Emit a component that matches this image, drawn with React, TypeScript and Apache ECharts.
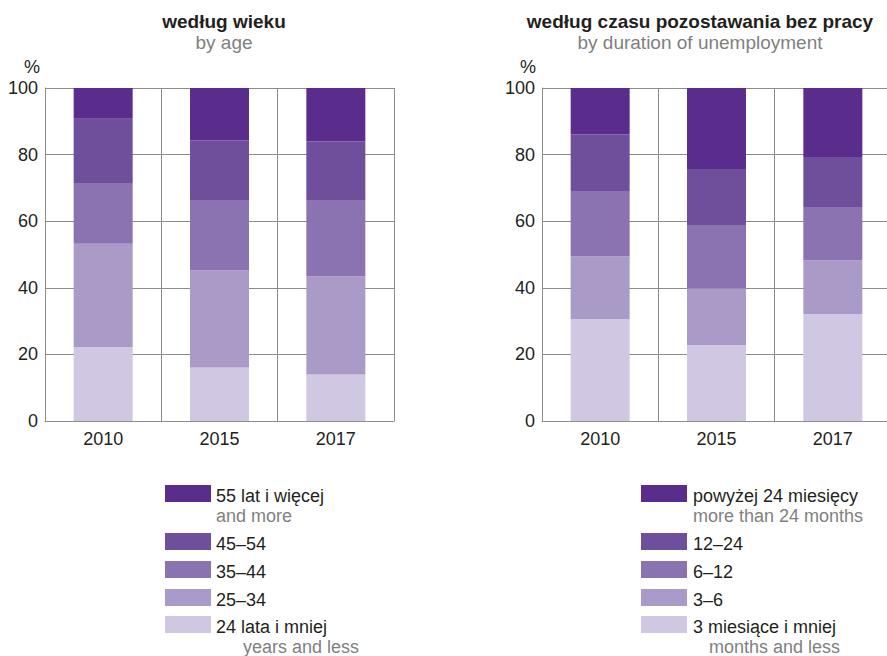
import React, { useEffect, useRef } from "react";
import * as echarts from "echarts";

const years = ["2010", "2015", "2017"];
const yTicks = [0, 20, 40, 60, 80, 100];

// by age (bottom to top)
const age24 = [22.2, 16.1, 14.0];
const age25_34 = [31.0, 29.2, 29.5];
const age35_44 = [18.3, 21.1, 22.9];
const age45_54 = [19.3, 17.8, 17.5];
const age55 = [9.2, 15.8, 16.1];

// by duration of unemployment (bottom to top)
const dur3 = [30.6, 22.8, 32.1];
const dur3_6 = [18.9, 17.1, 16.2];
const dur6_12 = [19.6, 18.7, 16.0];
const dur12_24 = [16.9, 17.1, 15.0];
const dur24 = [14.0, 24.3, 20.7];

const ageNames = ["24 lata i mniej", "25–34", "35–44", "45–54", "55 lat i więcej"];
const ageSubs = ["years and less", "", "", "", "and more"];
const durNames = ["3 miesiące i mniej", "3–6", "6–12", "12–24", "powyżej 24 miesięcy"];
const durSubs = ["months and less", "", "", "", "more than 24 months"];

const colors = ["#d0c7e2", "#aa9ac7", "#8b72b0", "#6f4f9c", "#5a2d8c"];

const FONT = "'Liberation Sans', Arial, Helvetica, sans-serif";
const DARK = "#231f20";
const GRAY = "#7f7f7f";
const LINE = "#8c8c8c";

export default function App() {
  const ref = useRef<HTMLDivElement>(null);

  useEffect(() => {
    if (!ref.current) return;
    const chart = echarts.init(ref.current, undefined, { renderer: "svg" });

    const ageData = [age24, age25_34, age35_44, age45_54, age55];
    const durData = [dur3, dur3_6, dur6_12, dur12_24, dur24];

    const grids = [
      { left: 45, top: 88, width: 349, height: 333 },
      { left: 542, top: 88, width: 349, height: 333 },
    ];

    const xAxes = grids.map((_, i) => ({
      type: "category",
      gridIndex: i,
      data: years,
      axisLine: { show: true, lineStyle: { color: LINE, width: 1 } },
      axisTick: { show: false },
      splitLine: { show: true, lineStyle: { color: LINE, width: 1 } },
      axisLabel: { color: DARK, fontSize: 18, fontFamily: FONT, margin: 9 },
    }));

    const yAxes = grids.map((_, i) => ({
      type: "value",
      gridIndex: i,
      min: yTicks[0],
      max: yTicks[yTicks.length - 1],
      interval: 20,
      axisLine: { show: true, lineStyle: { color: LINE, width: 1 } },
      axisTick: { show: false },
      splitLine: { show: true, lineStyle: { color: LINE, width: 1 } },
      axisLabel: { color: DARK, fontSize: 18, fontFamily: FONT, margin: 7 },
    }));

    const series: any[] = [];
    ageData.forEach((d, k) => {
      series.push({
        type: "bar",
        name: ageNames[k],
        stack: "age",
        xAxisIndex: 0,
        yAxisIndex: 0,
        data: d,
        barWidth: 59,
        itemStyle: { color: colors[k] },
      });
    });
    durData.forEach((d, k) => {
      series.push({
        type: "bar",
        name: durNames[k],
        stack: "dur",
        xAxisIndex: 1,
        yAxisIndex: 1,
        data: d,
        barWidth: 59,
        itemStyle: { color: colors[k] },
      });
    });

    const graphic: any[] = [];
    const addText = (x: number, y: number, text: string, fill: string, size: number, weight = "normal", align = "left") => {
      graphic.push({
        type: "text",
        x,
        y,
        style: {
          text,
          fill,
          fontSize: size,
          fontFamily: FONT,
          fontWeight: weight,
          align,
          verticalAlign: "middle",
        },
      });
    };

    // titles
    addText(224, 21, "według wieku", DARK, 19, "bold", "center");
    addText(224, 42, "by age", GRAY, 19, "normal", "center");
    addText(700, 21, "według czasu pozostawania bez pracy", DARK, 19, "bold", "center");
    addText(700, 42, "by duration of unemployment", GRAY, 19, "normal", "center");
    addText(32, 67, "%", DARK, 18, "normal", "center");
    addText(528, 67, "%", DARK, 18, "normal", "center");

    // legends (top row = darkest)
    const rowTops = [485, 533, 561, 589, 616];
    const legend = (sx: number, tx: number, subTopX: number, subBotX: number, names: string[], subs: string[]) => {
      for (let r = 0; r < 5; r++) {
        const k = 4 - r;
        graphic.push({
          type: "rect",
          shape: { x: sx, y: rowTops[r], width: 46, height: 17 },
          style: { fill: colors[k] },
        });
        addText(tx, rowTops[r] + 10.5, names[k], DARK, 18);
        if (subs[k]) {
          const subX = r === 0 ? subTopX : subBotX;
          addText(subX, rowTops[r] + 31, subs[k], GRAY, 18);
        }
      }
    };
    legend(165, 216, 216, 243, ageNames, ageSubs);
    legend(641, 693, 693, 709, durNames, durSubs);

    chart.setOption({
      animation: false,
      grid: grids,
      xAxis: xAxes,
      yAxis: yAxes,
      series,
      graphic,
    });

    return () => chart.dispose();
  }, []);

  return (
    <div
      style={{ position: "fixed", left: 0, top: 0, width: 887, height: 656, overflow: "hidden", background: "#fff" }}
    >
      <div ref={ref} style={{ position: "absolute", left: 0, top: 0, width: 900, height: 656 }} />
    </div>
  );
}
